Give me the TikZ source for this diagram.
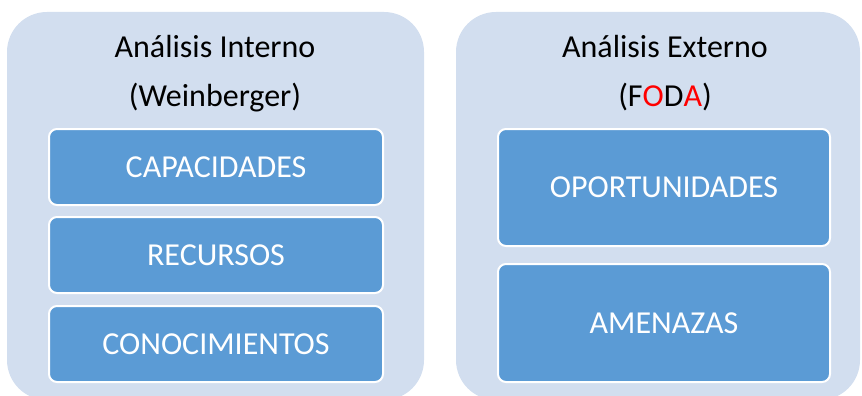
\documentclass[tikz,border=0pt]{standalone}
\usepackage{fontspec}
\setmainfont{Carlito}
\definecolor{panelblue}{HTML}{D2DEEF}
\definecolor{boxblue}{HTML}{5B9BD5}
\tikzset{
	panel/.style={fill=panelblue, rounded corners=40pt},
	heading/.style={align=center, font=\fontsize{32}{49}\selectfont, text=black},
	itembox/.style={draw=white, line width=2pt, fill=boxblue, rounded corners=8pt,
		text=white, font=\fontsize{32}{38}\selectfont, inner sep=0pt, minimum width=334pt}
}

\begin{document}
\begin{tikzpicture}[x=1pt, y=-1pt]
			%%%%% START %%%%%
			
			\useasboundingbox (0, 0) rectangle (862, 396);
			\clip (0, 0) rectangle (862, 396);
			
			\fill[panel] (7, 12) rectangle (424, 400);
			\fill[panel] (456, 12) rectangle (860, 400);
			
			\node[heading] (interno) at (215, 73.5) {Análisis Interno\\(Weinberger)};
			\node[heading] (externo) at (665, 73.5) {Análisis Externo\\(F\textcolor{red}{O}D\textcolor{red}{A})};
			
			\node[itembox, minimum height=76pt] (capacidades) at (216, 167) {CAPACIDADES};
			\node[itembox, minimum height=76pt] (recursos) at (216, 255) {RECURSOS};
			\node[itembox, minimum height=76pt] (conocimientos) at (216, 344) {CONOCIMIENTOS};
			
			\node[itembox, minimum width=332pt, minimum height=117pt] (oportunidades) at (664, 187.5) {OPORTUNIDADES};
			\node[itembox, minimum width=332pt, minimum height=118pt] (amenazas) at (664, 323) {AMENAZAS};
			
			%%%%% END %%%%%
\end{tikzpicture}
\end{document}
